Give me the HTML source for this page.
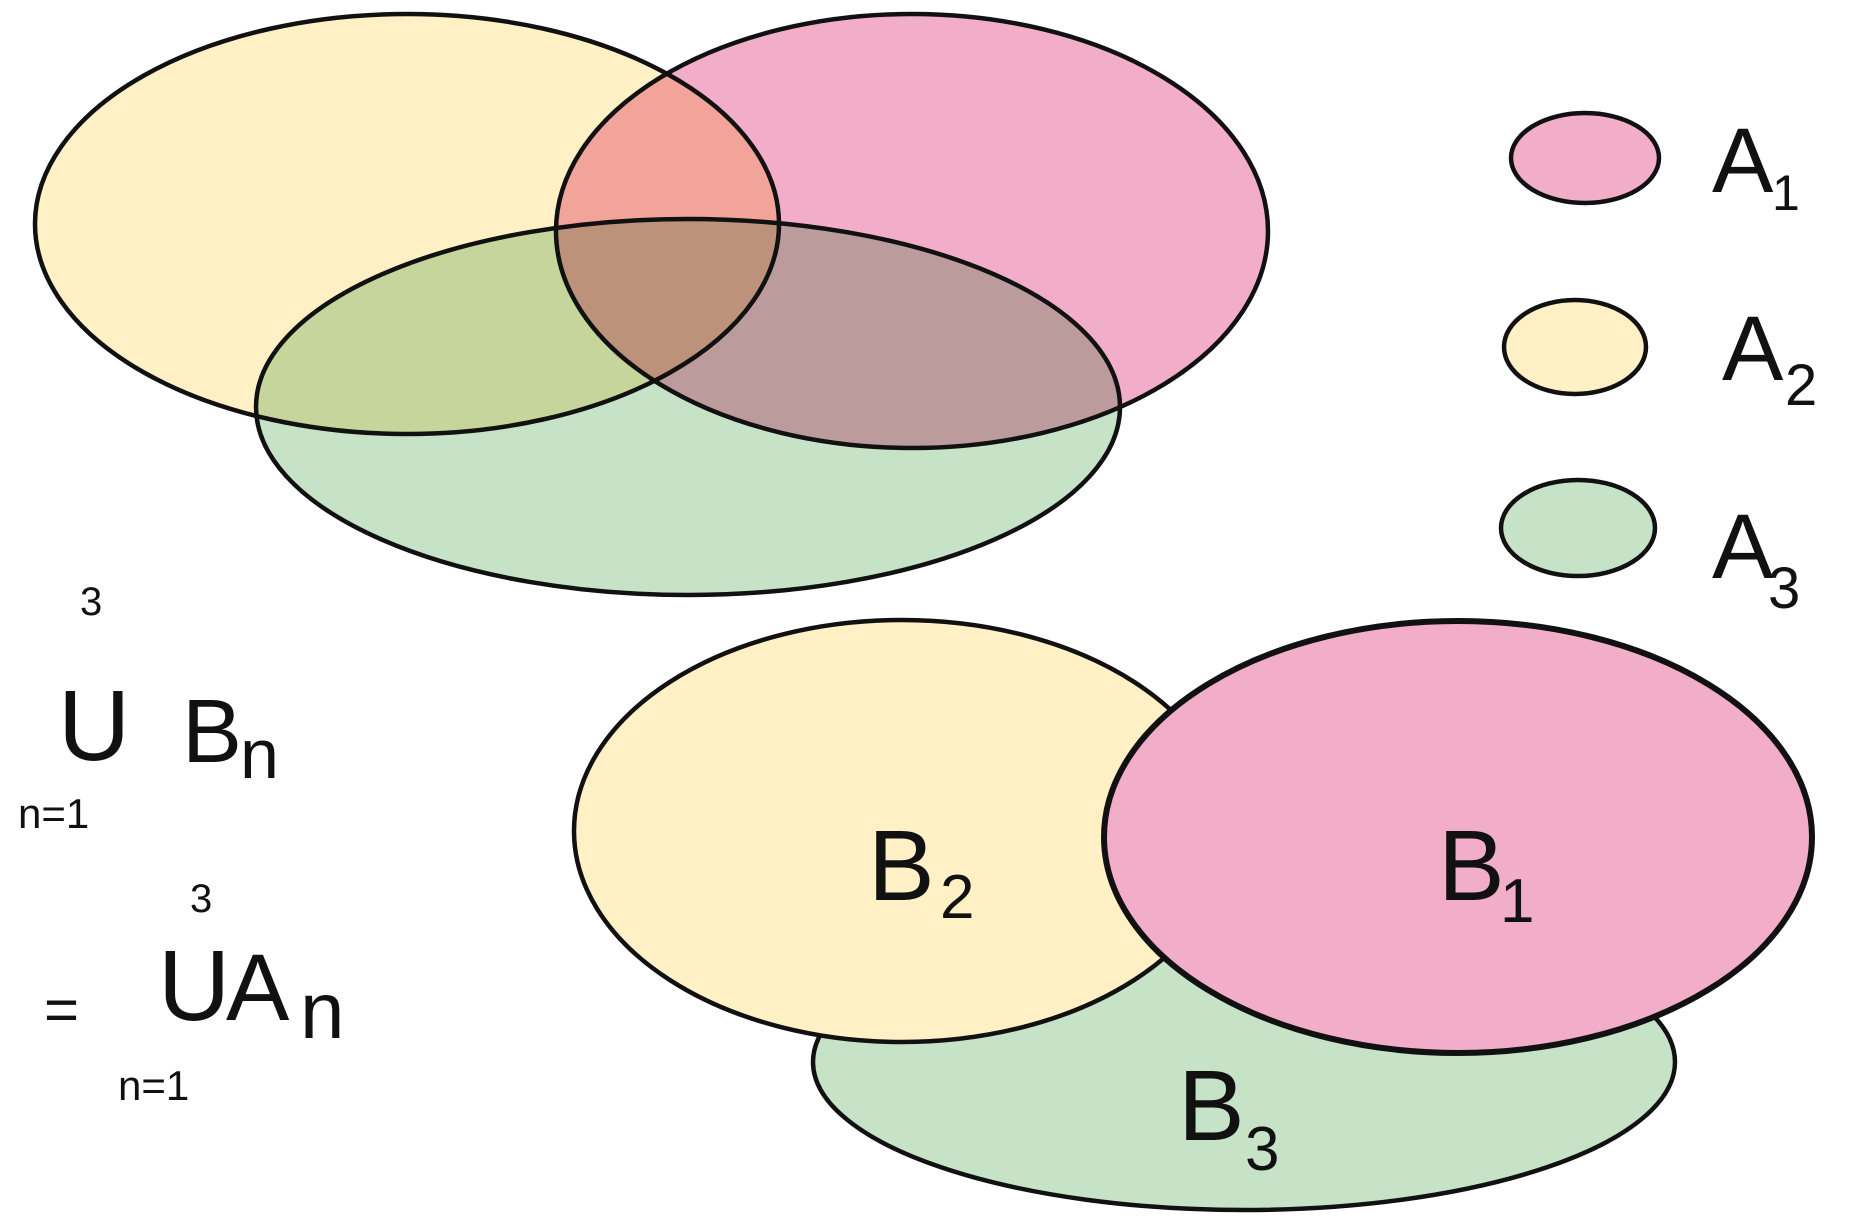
<!DOCTYPE html>
<html><head><style>body{margin:0;background:#fff}svg{display:block}</style></head><body>
<svg width="1861" height="1217" viewBox="0 0 1861 1217" xmlns="http://www.w3.org/2000/svg" font-family="Liberation Sans, sans-serif">
<g style="isolation:isolate">
<ellipse cx="407" cy="224" rx="372" ry="210" fill="#fff0c6" style="mix-blend-mode:multiply"/>
<ellipse cx="912" cy="231" rx="356" ry="217" fill="#f2aec8" style="mix-blend-mode:multiply"/>
<ellipse cx="688" cy="407" rx="432" ry="188" fill="#c6e3c8" style="mix-blend-mode:multiply"/>
</g>
<g fill="none" stroke="#111" stroke-width="4.5">
<ellipse cx="407" cy="224" rx="372" ry="210"/>
<ellipse cx="912" cy="231" rx="356" ry="217"/>
<ellipse cx="688" cy="407" rx="432" ry="188"/>
</g>
<g stroke="#111" stroke-width="4.5">
<ellipse cx="1585" cy="158" rx="74" ry="45" fill="#f2aec8"/>
<ellipse cx="1575" cy="347" rx="71" ry="47" fill="#fff0c6"/>
<ellipse cx="1578" cy="528" rx="77" ry="48" fill="#c6e3c8"/>
<ellipse cx="1244" cy="1062" rx="431" ry="148" fill="#c6e3c8"/>
<ellipse cx="902" cy="831" rx="328" ry="211" fill="#fff0c6"/>
<ellipse cx="1458" cy="837" rx="354" ry="216" fill="#f2aec8" stroke-width="6"/>
</g>
<g fill="#111">
<text x="1712" y="192" font-size="92">A</text><text x="1772" y="210" font-size="50">1</text>
<text x="1722" y="380" font-size="92">A</text><text x="1785" y="405" font-size="58">2</text>
<text x="1712" y="578" font-size="92">A</text><text x="1768" y="608" font-size="58">3</text>
<text x="868" y="900" font-size="100">B</text><text x="940" y="918" font-size="62">2</text>
<text x="1438" y="900" font-size="100">B</text><text x="1500" y="922" font-size="62">1</text>
<text x="1178" y="1140" font-size="100">B</text><text x="1245" y="1170" font-size="62">3</text>
<text x="80" y="615" font-size="40">3</text>
<text x="58" y="760" font-size="100">U</text>
<text x="182" y="762" font-size="90">B</text><text x="240" y="778" font-size="70">n</text>
<text x="18" y="828" font-size="42">n=1</text>
<text x="190" y="912" font-size="40">3</text>
<text x="44" y="1030" font-size="60">=</text>
<text x="158" y="1020" font-size="100">U</text>
<text x="226" y="1020" font-size="95">A</text><text x="300" y="1038" font-size="80">n</text>
<text x="118" y="1100" font-size="42">n=1</text>
</g>
</svg>
</body></html>
